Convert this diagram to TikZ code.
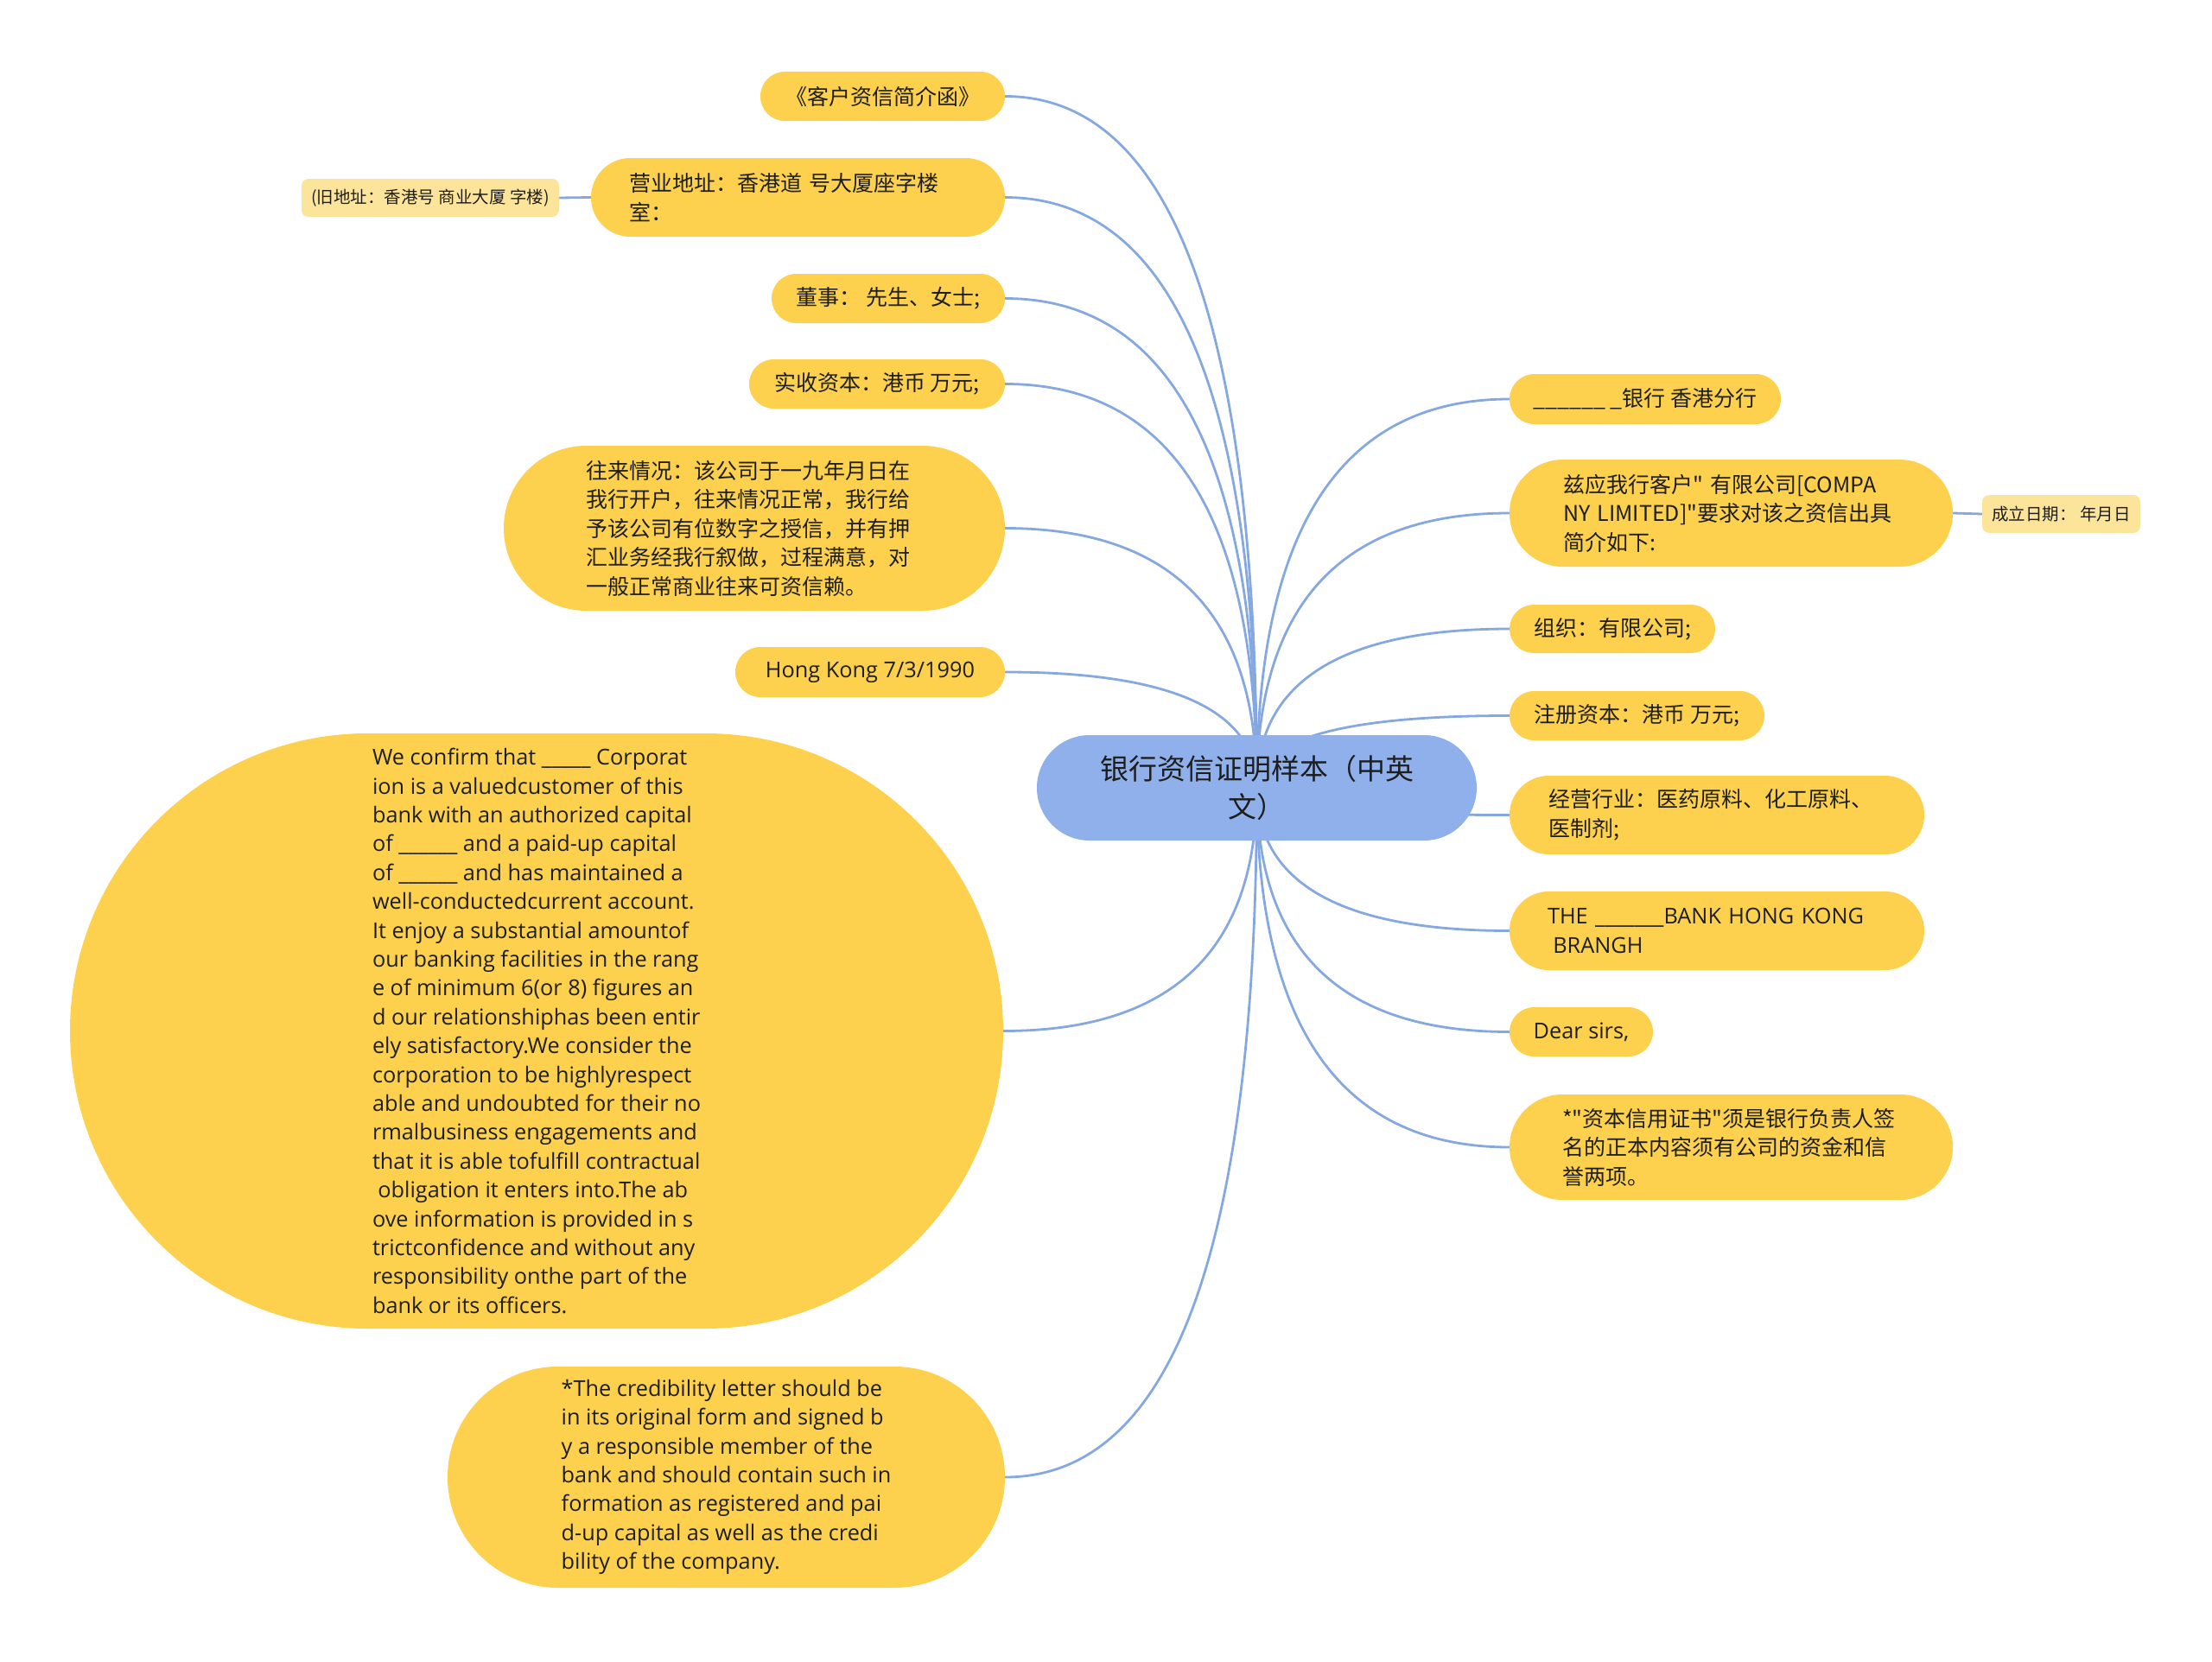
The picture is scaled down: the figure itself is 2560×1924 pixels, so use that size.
\documentclass[tikz,border=0pt]{standalone}
\usepackage{fontspec}
\setmainfont{Open Sans}
\newfontfamily\cjk{Noto Sans CJK SC}
\usetikzlibrary{calc,backgrounds}
\definecolor{leafc}{RGB}{253,209,78}
\definecolor{subc}{RGB}{253,228,155}
\definecolor{rootc}{RGB}{143,176,234}
\definecolor{linec}{RGB}{134,168,224}
\definecolor{textc}{RGB}{30,30,30}
\newcommand\rlink[1]{%
  \coordinate (q) at (root.center |- #1);
  \draw[conn] (root.center) .. controls ($(root.center)!0.6667!(q)$) and ($(#1)!0.6667!(q)$) .. (#1);}
\tikzset{
  box/.style={rectangle, fill=leafc, inner sep=0pt, align=left, text=textc},
  zh/.style={font=\cjk\fontsize{25}{33.5}\selectfont},
  en/.style={font=\fontsize{25.3}{33.4}\selectfont},
  subbox/.style={rectangle, fill=subc, inner sep=0pt, rounded corners=8pt, align=center, text=textc, font=\cjk\fontsize{19.5}{26}\selectfont},
  conn/.style={draw=linec, line width=2.8pt},
}
\begin{document}
\begin{tikzpicture}[x=1pt,y=-1pt]
\useasboundingbox (0,0) rectangle (2560,1924);
% root
\node[rectangle, fill=rootc, inner sep=0pt, minimum width=509pt, minimum height=122pt, rounded corners=60.9pt, text width=420pt, align=center, text=textc, font=\cjk\fontsize{33}{44}\selectfont] (root) at (1454.5,912) {银行资信证明样本（中英\\文）};
% left
\node[box, zh, minimum width=283pt, minimum height=57pt, rounded corners=28.4pt] (l1) at (1021.5,111.5) {《客户资信简介函》};
\node[box, zh, minimum width=479pt, minimum height=91pt, rounded corners=45.4pt, text width=390pt] (l2) at (923.5,228.5) {营业地址：香港道 号大厦座字楼\\室：};
\node[subbox, minimum width=298pt, minimum height=44pt] (l2s) at (498,229) {(旧地址：香港号 商业大厦 字楼)};
\node[box, zh, minimum width=270pt, minimum height=57pt, rounded corners=28.4pt] (l3) at (1028,345.5) {董事： 先生、女士;};
\node[box, zh, minimum width=296pt, minimum height=57pt, rounded corners=28.4pt] (l4) at (1015,444.5) {实收资本：港币 万元;};
\node[box, zh, minimum width=580pt, minimum height=191pt, rounded corners=95.4pt, text width=389pt] (l5) at (873,611.5) {往来情况：该公司于一九年月日在\\我行开户，往来情况正常，我行给\\予该公司有位数字之授信，并有押\\汇业务经我行叙做，过程满意，对\\一般正常商业往来可资信赖。};
\node[box, en, minimum width=312pt, minimum height=58pt, rounded corners=28.9pt] (l6) at (1007,778) {Hong Kong 7/3/1990};
\node[box, en, minimum width=1080pt, minimum height=689pt, rounded corners=344.4pt] (l7) at (621,1193.5) {We confirm that \_\_\_\_\_ Corporat\\ion is a valuedcustomer of this\\bank with an authorized capital\\of \_\_\_\_\_\_ and a paid-up capital\\of \_\_\_\_\_\_ and has maintained a\\well-conductedcurrent account.\\It enjoy a substantial amountof\\our banking facilities in the rang\\e of minimum 6(or 8) figures an\\d our relationshiphas been entir\\ely satisfactory.We consider the\\corporation to be highlyrespect\\able and undoubted for their no\\rmalbusiness engagements and\\that it is able tofulfill contractual\\\hspace*{0.25em}obligation it enters into.The ab\\ove information is provided in s\\trictconfidence and without any\\responsibility onthe part of the\\bank or its officers.};
\node[box, en, minimum width=645pt, minimum height=256pt, rounded corners=127.9pt] (l8) at (840.5,1710) {*The credibility letter should be\\in its original form and signed b\\y a responsible member of the\\bank and should contain such in\\formation as registered and pai\\d-up capital as well as the credi\\bility of the company.};
% right
\node[box, zh, minimum width=314pt, minimum height=58pt, rounded corners=28.9pt] (r1) at (1904,462) {\_\_\_\_\_\_ \_银行 香港分行};
\node[box, zh, minimum width=513pt, minimum height=124pt, rounded corners=61.9pt, text width=389pt] (r2) at (2003.5,594) {兹应我行客户" 有限公司[COMPA\\NY LIMITED]"要求对该之资信出具\\简介如下:};
\node[subbox, minimum width=183pt, minimum height=44pt] (r2s) at (2385.5,595) {成立日期：\ 年月日};
\node[box, zh, minimum width=238pt, minimum height=56pt, rounded corners=27.9pt] (r3) at (1866,728) {组织：有限公司;};
\node[box, zh, minimum width=295pt, minimum height=57pt, rounded corners=28.4pt] (r4) at (1894.5,828.5) {注册资本：港币 万元;};
\node[box, zh, minimum width=480pt, minimum height=91pt, rounded corners=45.4pt, text width=389pt] (r5) at (1987,943.5) {经营行业：医药原料、化工原料、\\医制剂;};
\node[box, en, minimum width=480pt, minimum height=91pt, rounded corners=45.4pt, text width=392pt] (r6) at (1987,1077.5) {THE \_\_\_\_\_\_\_BANK HONG KONG\\\hspace*{0.25em}BRANGH};
\node[box, en, minimum width=166pt, minimum height=57pt, rounded corners=28.4pt] (r7) at (1830,1194.5) {Dear sirs,};
\node[box, zh, minimum width=513pt, minimum height=122pt, rounded corners=60.9pt, text width=391pt] (r8) at (2003.5,1328) {*"资本信用证书"须是银行负责人签\\名的正本内容须有公司的资金和信\\誉两项。};
% connectors
\begin{scope}[on background layer]
\rlink{l1.east}
\rlink{l2.east}
\rlink{l3.east}
\rlink{l4.east}
\rlink{l5.east}
\rlink{l6.east}
\rlink{l7.east}
\rlink{l8.east}
\rlink{r1.west}
\rlink{r2.west}
\rlink{r3.west}
\rlink{r4.west}
\rlink{r5.west}
\rlink{r6.west}
\rlink{r7.west}
\rlink{r8.west}
\draw[conn] (l2s.east) -- (l2.west);
\draw[conn] (r2.east) -- (r2s.west);
\end{scope}
\end{tikzpicture}
\end{document}
